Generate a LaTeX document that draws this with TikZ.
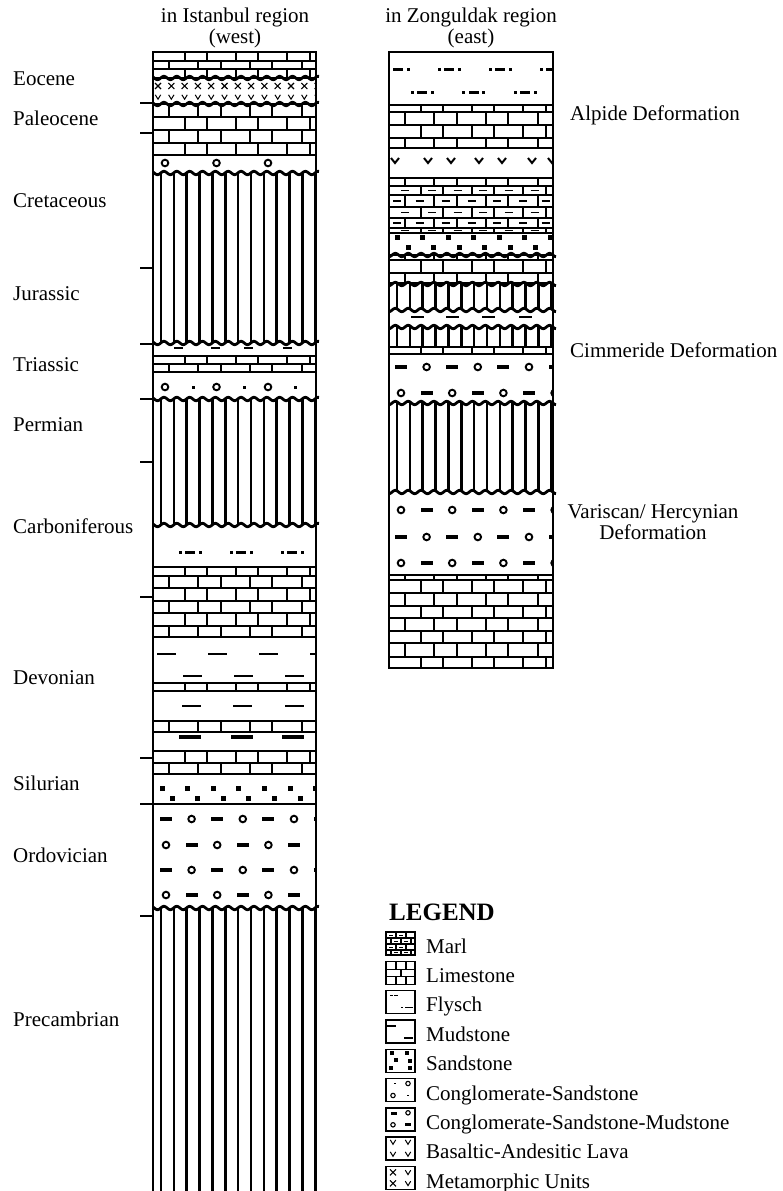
\documentclass[tikz,border=0pt]{standalone}
\usepackage{fontspec}
\setmainfont{Liberation Serif}
\newcommand\lblfont{\fontsize{21}{21}\selectfont}
\newcommand\legfont{\fontsize{25}{25}\selectfont\bfseries}
\tikzset{
  border/.style={line width=1.4pt},
  brick/.style={line width=1.1pt},
  vl/.style={line width=2.6pt},
  wave/.style={line width=2.8pt,line join=round},
  circ/.style={line width=1.9pt},
  tick/.style={line width=1.1pt},
  lbl/.style={anchor=base west,inner sep=0pt,font=\lblfont},
  lblc/.style={anchor=base,inner sep=0pt,font=\lblfont},
}
% one row of bricks
\newcommand\BrickRow[4]{%
  \ifnum#4=0\relax
    \foreach \o in {32,54,83,105,134,157}{\draw[brick] ({#1+\o},#2) -- ({#1+\o},#3);}%
  \else
    \foreach \o in {16,45,68,97,119,149}{\draw[brick] ({#1+\o},#2) -- ({#1+\o},#3);}%
  \fi
  \draw[brick] (#1,#2) -- ++(170,0);
  \draw[brick] (#1,#3) -- ++(170,0);
}
\newcommand\Bricks[4]{%
  \foreach \yy [remember=\yy as \yp (initially #2), count=\ii] in {#3}{%
    \pgfmathtruncatemacro\bp{mod(\ii+#4,2)}%
    \BrickRow{#1}{\yp}{\yy}{\bp}%
  }%
}
\newcommand\MarlRow[4]{%
  \BrickRow{#1}{#2}{#3}{#4}%
  \pgfmathsetmacro\ym{(#2+#3)/2}%
  \ifnum#4=0\relax
    \foreach \c in {16,43,68.5,94,119.5,145.5}{\draw[brick] ({#1+\c-4},\ym) -- ({#1+\c+4},\ym);}%
  \else
    \foreach \c in {8,30.5,56.5,82.5,108,134,156.5}{\draw[brick] ({#1+\c-4},\ym) -- ({#1+\c+4},\ym);}%
  \fi
}
\newcommand\Marls[4]{%
  \foreach \yy [remember=\yy as \yp (initially #2), count=\ii] in {#3}{%
    \pgfmathtruncatemacro\bp{mod(\ii+#4,2)}%
    \MarlRow{#1}{\yp}{\yy}{\bp}%
  }%
}
\newcommand\VLines[4]{\foreach \k in {0,...,#2}{\draw[vl] ({#1+12.85*\k},#3) -- ({#1+12.85*\k},#4);}}
\newcommand\Wavy[3]{\draw[wave] plot[domain=#1:#2,samples=160,smooth] (\x,{#3+1.7*sin(28*\x)});}
\newcommand\Cir[2]{\draw[circ] (#1,#2) circle[radius=3.3];}
\newcommand\Dsh[4]{\fill ({#1-#3/2},{#2-#4/2}) rectangle ({#1+#3/2},{#2+#4/2});}
\newcommand\Fly[2]{\Dsh{#1-10}{#2}{3}{3}\Dsh{#1}{#2}{10}{3}\Dsh{#1+10}{#2}{3}{3}}
\newcommand\Vm[2]{\draw[line width=1pt] ({#1-2.7},{#2-2.2}) -- (#1,{#2+2.2}) -- ({#1+2.7},{#2-2.2});}
\newcommand\VmB[2]{\draw[line width=2pt] ({#1-4},{#2-3}) -- (#1,{#2+2}) -- ({#1+4},{#2-3});}
\newcommand\Xm[2]{\draw[line width=1.1pt] ({#1-3},{#2-3}) -- ({#1+3},{#2+3}) ({#1-3},{#2+3}) -- ({#1+3},{#2-3});}
\newcommand\CSMRow[4]{\foreach \k in {0,...,#2}{\pgfmathtruncatemacro\m{mod(\k+#4,2)}\pgfmathsetmacro\xx{#1+25.6*\k}\ifnum\m=0 \Dsh{\xx}{#3}{12}{4.5}\else\Cir{\xx}{#3}\fi}}
\begin{document}
\begin{tikzpicture}[x=1pt,y=-1pt]
\useasboundingbox (0,0) rectangle (782,1191);

% ================= WEST COLUMN =================
\begin{scope}
\clip (153,52) rectangle (316,1191);
\Bricks{153}{52}{61,69,78}{1}
\foreach \k in {0,...,12}{\Xm{158+13.3*\k}{86}\Vm{158+13.3*\k}{97}}
\Bricks{153}{104}{117,130,143,155}{0}
\foreach \xx in {165,216.5,268,319.5}{\Cir{\xx}{163}}
\VLines{161}{12}{173}{343}
\foreach \xx in {178,215,248,287}{\Dsh{\xx}{348}{9}{2.5}}
\draw[brick] (153,356) -- (316,356);
\Bricks{153}{356}{364,372}{1}
\foreach \xx in {165,216.5,268,319.5}{\Cir{\xx}{387}}
\foreach \xx in {193,244,295}{\Dsh{\xx}{387}{3}{3}}
\VLines{161}{12}{399}{525}
\foreach \k in {0,...,2}{\Fly{190+51*\k}{552}}
\Bricks{153}{567}{576,588,601,613,626,637}{1}
\foreach \k in {0,...,3}{\Dsh{166+51.3*\k}{654}{19}{2.5}}
\foreach \k in {0,...,2}{\Dsh{192+51*\k}{676}{19}{2.5}}
\Bricks{153}{683}{691}{1}
\foreach \k in {0,...,2}{\Dsh{191+51.5*\k}{706}{19}{2.5}}
\Bricks{153}{721}{732}{0}
\foreach \k in {0,...,2}{\Dsh{190+51.5*\k}{737}{22}{4}}
\Bricks{153}{751}{763,774}{1}
\foreach \k in {0,...,6}{\Dsh{162+25.6*\k}{788}{5}{5}}
\foreach \k in {0,...,5}{\Dsh{172+25.6*\k}{798}{5}{5}}
\draw[brick] (153,804) -- (316,804);
\CSMRow{166}{6}{819}{0}
\CSMRow{166}{6}{845}{1}
\CSMRow{166}{6}{870}{0}
\CSMRow{166}{6}{895}{1}
\VLines{161}{12}{908}{1195}
\end{scope}
\Wavy{153}{319}{78}
\Wavy{153}{319}{104}
\Wavy{153}{319}{173}
\Wavy{153}{319}{343}
\Wavy{153}{319}{399}
\Wavy{153}{319}{525}
\Wavy{153}{319}{908}
\draw[border] (153,1191) -- (153,52) -- (316,52) -- (316,1191);
\foreach \yy in {103,133,268,344,399,462,597,758,804,916}{\draw[tick] (140,\yy) -- (153,\yy);}

% ================= EAST COLUMN =================
\begin{scope}
\clip (389,52) rectangle (553,668);
\foreach \k in {0,...,3}{\Fly{398+51*\k}{69}}
\foreach \k in {0,...,2}{\Fly{422+51.5*\k}{92}}
\Bricks{389}{105}{112,125,138,148}{1}
\foreach \xx in {395,428,451,479,502,532,552}{\VmB{\xx}{161}}
\Bricks{389}{178}{186}{0}
\Marls{389}{186}{195,207,218,228,233}{1}
\foreach \k in {0,...,6}{\Dsh{397+25.5*\k}{237}{5}{5}}
\foreach \k in {0,...,5}{\Dsh{408+25.5*\k}{247}{5}{5}}
\Bricks{389}{255}{260,273,283}{0}
\VLines{397}{12}{284}{310}
\foreach \xx in {417,452,488,525}{\Dsh{\xx}{317}{13}{2.5}}
\VLines{397}{12}{327}{347}
\Bricks{389}{347}{354}{1}
\CSMRow{401}{6}{367}{0}
\CSMRow{401}{6}{393}{1}
\VLines{397}{12}{403}{492}
\CSMRow{401}{6}{510}{1}
\CSMRow{401}{6}{537}{0}
\CSMRow{401}{6}{563}{1}
\Bricks{389}{575}{580,593,606,618,631,643,657,668}{0}
\end{scope}
\Wavy{389}{556}{255}
\Wavy{389}{556}{284}
\Wavy{389}{556}{310}
\Wavy{389}{556}{327}
\Wavy{389}{556}{403}
\Wavy{389}{556}{492}
\draw[border] (389,52) rectangle (553,668);

% ================= HEADINGS & LABELS =================
\node[lblc] (hW1) at (235,23) {in Istanbul region};
\node[lblc] (hW2) at (235,43) {(west)};
\node[lblc] (hE1) at (471,23) {in Zonguldak region};
\node[lblc] (hE2) at (471,43) {(east)};

\node[lbl] (lEoc) at (13,85) {Eocene};
\node[lbl] (lPal) at (13,125) {Paleocene};
\node[lbl] (lCre) at (13,207) {Cretaceous};
\node[lbl] (lJur) at (13,300) {Jurassic};
\node[lbl] (lTri) at (13,371) {Triassic};
\node[lbl] (lPer) at (13,431) {Permian};
\node[lbl] (lCar) at (13,533) {Carboniferous};
\node[lbl] (lDev) at (13,684) {Devonian};
\node[lbl] (lSil) at (13,790) {Silurian};
\node[lbl] (lOrd) at (13,862) {Ordovician};
\node[lbl] (lPre) at (13,1026) {Precambrian};

\node[lbl] (dAlp) at (570,120) {Alpide Deformation};
\node[lbl] (dCim) at (570,357) {Cimmeride Deformation};
\node[lblc] (dVar1) at (653,518) {Variscan/ Hercynian};
\node[lblc] (dVar2) at (653,539) {Deformation};

% ================= LEGEND =================
\node[anchor=base west,inner sep=0pt,font=\legfont] (legT) at (389,920) {LEGEND};
\foreach \i/\t in {0/Marl,1/Limestone,2/Flysch,3/Mudstone,4/Sandstone,5/Conglomerate-Sandstone,6/Conglomerate-Sandstone-Mudstone,7/Basaltic-Andesitic Lava,8/Metamorphic Units}{
  \node[lbl] (leg\i) at (426,{953+29.4*\i}) {\t};
}
% Marl
\begin{scope}[shift={(386,932)}]
 \draw[brick] (0,6)--(29,6) (0,12)--(29,12) (0,18)--(29,18);
 \draw[brick] (10,0)--(10,6) (20,0)--(20,6) (5,6)--(5,12) (15,6)--(15,12) (25,6)--(25,12)
   (10,12)--(10,18) (20,12)--(20,18) (5,18)--(5,23) (15,18)--(15,23) (25,18)--(25,23);
 \draw[line width=0.8pt] (3,3)--(7,3) (13,3)--(17,3) (8,9)--(12,9) (18,9)--(22,9) (3,15)--(7,15) (13,15)--(17,15) (8,20.5)--(12,20.5) (18,20.5)--(22,20.5);
 \draw[border] (0,0) rectangle (29,23);
\end{scope}
% Limestone
\begin{scope}[shift={(386,961.3)}]
 \draw[brick] (0,8)--(29,8) (0,15.5)--(29,15.5);
 \draw[brick] (10,0)--(10,8) (20,0)--(20,8) (15,8)--(15,15.5) (10,15.5)--(10,23) (20,15.5)--(20,23);
 \draw[border] (0,0) rectangle (29,23);
\end{scope}
% Flysch
\begin{scope}[shift={(386,990.6)}]
 \Dsh{5}{5}{3}{1.6}\Dsh{9.5}{5}{4}{1.6}
 \Dsh{16}{17}{1.6}{1.6}\Dsh{22.5}{17}{8}{1.6}
 \draw[border] (0,0) rectangle (29,23);
\end{scope}
% Mudstone
\begin{scope}[shift={(386,1019.9)}]
 \draw[line width=1.3pt] (0,6)--(10,6) (18,18)--(27,18);
 \draw[border] (0,0) rectangle (29,23);
\end{scope}
% Sandstone
\begin{scope}[shift={(386,1049.2)}]
 \foreach \p in {(6,4),(21,4),(10,11),(24,12),(5,19),(24,19)}{\fill \p ++(-1.8,-1.8) rectangle ++(3.6,3.6);}
 \draw[border] (0,0) rectangle (29,23);
\end{scope}
% Conglomerate-Sandstone
\begin{scope}[shift={(386,1078.5)}]
 \Dsh{9}{5}{1.8}{1.8}\Dsh{22}{17}{1.8}{1.8}
 \draw[line width=1.1pt] (22,5) circle[radius=2.2] (7,17) circle[radius=2.2];
 \draw[border] (0,0) rectangle (29,23);
\end{scope}
% Conglomerate-Sandstone-Mudstone
\begin{scope}[shift={(386,1107.8)}]
 \Dsh{8}{6}{6}{3}\Dsh{22}{17}{6}{3}
 \draw[line width=1.1pt] (22,5) circle[radius=2.2] (7,17) circle[radius=2.2];
 \draw[border] (0,0) rectangle (29,23);
\end{scope}
% Basaltic-Andesitic Lava
\begin{scope}[shift={(386,1137.1)}]
 \Vm{7}{5}\Vm{22}{5}\Vm{7}{17}\Vm{22}{17}
 \draw[border] (0,0) rectangle (29,23);
\end{scope}
% Metamorphic Units
\begin{scope}[shift={(386,1166.4)}]
 \Xm{7}{6}\Vm{22}{6}\Xm{7}{17}\Vm{22}{17}
 \draw[border] (0,0) rectangle (29,23);
\end{scope}
\end{tikzpicture}
\end{document}
